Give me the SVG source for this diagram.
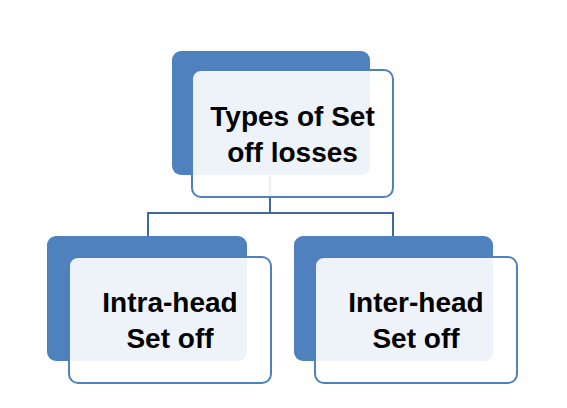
<svg xmlns="http://www.w3.org/2000/svg" width="567" height="408" viewBox="0 0 567 408">
<style>
.back{fill:#4F81BD;}
.front{fill:#FFFFFF;fill-opacity:0.9;stroke:#4F81BD;stroke-width:2;}
.conn{fill:none;stroke:#41689A;stroke-width:2;}
.lbl{font-family:"Liberation Sans",Arial,sans-serif;font-weight:bold;font-size:28px;fill:#000;text-anchor:middle;}
</style>
<rect width="567" height="408" fill="#FFFFFF"/>
<g id="connectors">
<path class="conn" d="M270 176 V213 M148 213 H393 M148 212 V237 M393 212 V237"/>
</g>
<g id="node-top">
<rect class="back" x="172" y="51" width="198" height="124" rx="9"/>
<rect class="front" x="192" y="70" width="201" height="127" rx="9"/>
<text class="lbl" x="292.5" y="126">Types of Set</text>
<text class="lbl" x="292.5" y="162">off losses</text>
</g>
<g id="node-intra">
<rect class="back" x="47" y="236" width="200" height="125" rx="9"/>
<rect class="front" x="69" y="257" width="202" height="126" rx="9"/>
<text class="lbl" x="170" y="312">Intra-head</text>
<text class="lbl" x="170" y="348">Set off</text>
</g>
<g id="node-inter">
<rect class="back" x="294" y="236" width="199" height="125" rx="9"/>
<rect class="front" x="315" y="257" width="202" height="126" rx="9"/>
<text class="lbl" x="416" y="312">Inter-head</text>
<text class="lbl" x="416" y="348">Set off</text>
</g>
</svg>
